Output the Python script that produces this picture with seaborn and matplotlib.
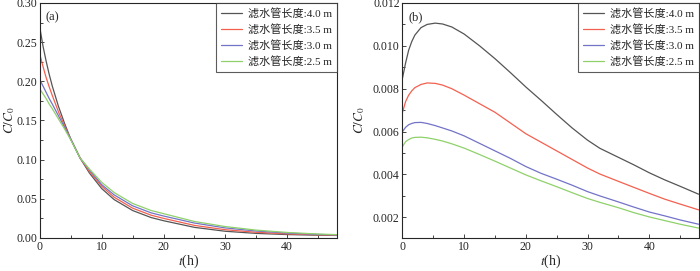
import matplotlib
matplotlib.use("Agg")
import matplotlib.pyplot as plt
import seaborn as sns
import pandas as pd
from matplotlib.ticker import MultipleLocator, FormatStrFormatter

# Data
labels = ["滤水管长度:4.0 m", "滤水管长度:3.5 m", "滤水管长度:3.0 m", "滤水管长度:2.5 m"]
colors = ["#555555", "#f4604f", "#7373c8", "#8fd16a"]

t_a = [0, 0.5, 1, 1.5, 2, 3, 4, 5, 6.5, 8, 10, 12, 15, 18, 20, 25, 30, 35, 40, 45, 48]
a_40 = [0.268, 0.245, 0.226, 0.209, 0.194, 0.168, 0.146, 0.126, 0.102, 0.083, 0.063, 0.049, 0.035, 0.026, 0.022, 0.0135, 0.0085, 0.0058, 0.0043, 0.0035, 0.0032]
a_35 = [0.234, 0.219, 0.205, 0.193, 0.182, 0.161, 0.143, 0.126, 0.102, 0.085, 0.066, 0.052, 0.038, 0.029, 0.025, 0.016, 0.0105, 0.0072, 0.0052, 0.0040, 0.0035]
a_30 = [0.202, 0.194, 0.186, 0.178, 0.171, 0.156, 0.141, 0.126, 0.102, 0.087, 0.068, 0.055, 0.041, 0.032, 0.028, 0.019, 0.0128, 0.0088, 0.0062, 0.0045, 0.0038]
a_25 = [0.190, 0.184, 0.178, 0.171, 0.165, 0.152, 0.139, 0.125, 0.102, 0.088, 0.071, 0.058, 0.044, 0.035, 0.031, 0.021, 0.0145, 0.0100, 0.0070, 0.0050, 0.0042]

t_b = [0, 0.5, 1, 1.5, 2, 3, 4, 5.3, 6.5, 8, 10, 12.5, 15, 17.5, 20, 22.5, 25, 27.5, 30, 32, 35, 37.5, 40, 42.5, 45, 48]
b_40 = [0.0085, 0.0092, 0.0098, 0.0102, 0.01050, 0.01085, 0.01100, 0.01106, 0.01102, 0.01088, 0.01055, 0.01000, 0.00940, 0.00875,
        0.00808, 0.00745, 0.00680, 0.00617, 0.00560, 0.00522, 0.00480, 0.00445, 0.00408, 0.00375, 0.00345, 0.00308]
b_35 = [0.0069, 0.0074, 0.00770, 0.00790, 0.00805, 0.00820, 0.00827, 0.00825, 0.00817, 0.00800, 0.00770, 0.00730, 0.00690, 0.00640,
        0.00590, 0.00550, 0.00510, 0.00470, 0.00430, 0.00402, 0.00368, 0.00340, 0.00312, 0.00285, 0.00262, 0.00235]
b_30 = [0.0060, 0.0062, 0.00632, 0.00638, 0.00642, 0.00643, 0.00638, 0.00628, 0.00617, 0.00603, 0.00580, 0.00545, 0.00510, 0.00475,
        0.00437, 0.00405, 0.00378, 0.00350, 0.00320, 0.00300, 0.00272, 0.00248, 0.00225, 0.00207, 0.00188, 0.00168]
b_25 = [0.0053, 0.00553, 0.00563, 0.00570, 0.00573, 0.00574, 0.00571, 0.00564, 0.00556, 0.00543, 0.00523, 0.00493, 0.00462, 0.00430,
        0.00398, 0.00370, 0.00343, 0.00315, 0.00288, 0.00270, 0.00245, 0.00222, 0.00202, 0.00185, 0.00168, 0.00150]

sns.set_style("ticks")
plt.rcParams["font.family"] = ["Liberation Serif", "Noto Sans CJK SC"]
plt.rcParams["mathtext.fontset"] = "stix"
plt.rcParams["xtick.direction"] = "in"
plt.rcParams["ytick.direction"] = "in"

df_a = pd.DataFrame({"t": t_a * 4, "c": a_40 + a_35 + a_30 + a_25,
                     "g": sum([[l] * len(t_a) for l in labels], [])})
df_b = pd.DataFrame({"t": t_b * 4, "c": b_40 + b_35 + b_30 + b_25,
                     "g": sum([[l] * len(t_b) for l in labels], [])})

fig = plt.figure(figsize=(7, 2.71), dpi=100)
ax1 = fig.add_axes([0.057, 0.122, 0.424, 0.867])
ax2 = fig.add_axes([0.575, 0.122, 0.423, 0.867])

for ax, df, tag in [(ax1, df_a, "(a)"), (ax2, df_b, "(b)")]:
    sns.lineplot(data=df, x="t", y="c", hue="g", hue_order=labels, palette=colors,
                 linewidth=0.9, ax=ax)
    ax.set_xlim(0, 48)
    ax.xaxis.set_major_locator(MultipleLocator(10))
    ax.xaxis.set_minor_locator(MultipleLocator(5))
    ax.set_xlabel(r"$t$(h)", fontsize=10, labelpad=0)
    ax.set_ylabel(r"$C/C_0$", fontsize=9.5)
    ax.tick_params(labelsize=8.5, length=3, width=0.6, pad=2)
    ax.tick_params(which="minor", length=2, width=0.6)
    for s in ax.spines.values():
        s.set_linewidth(0.8)
    ax.text(0.02, 0.965, tag, transform=ax.transAxes, fontsize=9, va="top")
    leg = ax.legend(loc="upper right", fontsize=8, frameon=True, fancybox=False,
                    borderaxespad=0, handlelength=1.9, labelspacing=0.45,
                    borderpad=0.45, handletextpad=0.5)
    leg.get_frame().set_edgecolor("#333333")
    leg.get_frame().set_linewidth(0.8)

ax1.yaxis.set_label_coords(-0.078, 0.5)
ax2.yaxis.set_label_coords(-0.12, 0.5)

ax1.set_ylim(0, 0.30)
ax1.yaxis.set_major_locator(MultipleLocator(0.05))
ax1.yaxis.set_minor_locator(MultipleLocator(0.025))
ax1.yaxis.set_major_formatter(FormatStrFormatter("%.2f"))

ax2.set_ylim(0.00104, 0.012)
ax2.yaxis.set_major_locator(MultipleLocator(0.002))
ax2.yaxis.set_minor_locator(MultipleLocator(0.001))
ax2.yaxis.set_major_formatter(FormatStrFormatter("%.3f"))

fig.savefig("out.png", dpi=100)
